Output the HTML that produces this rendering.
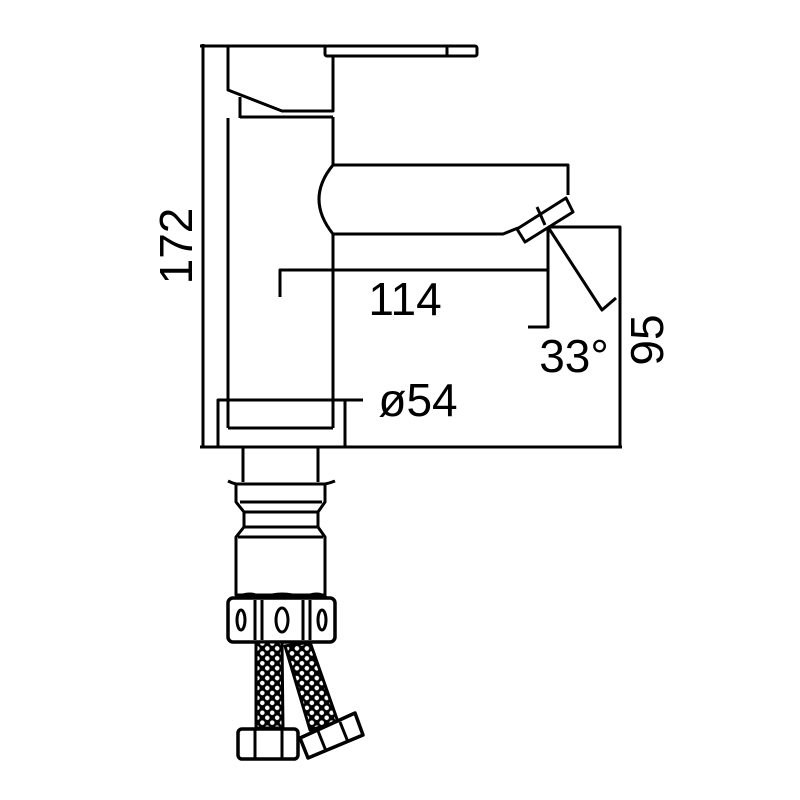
<!DOCTYPE html>
<html><head><meta charset="utf-8"><style>
html,body{margin:0;padding:0;background:#fff}
svg{display:block}
text{font-family:"Liberation Sans",sans-serif;fill:#000}
</style></head><body>
<svg width="800" height="800" viewBox="0 0 800 800" xmlns="http://www.w3.org/2000/svg">
<defs>
<pattern id="mesh" width="7" height="7" patternUnits="userSpaceOnUse" patternTransform="rotate(45)">
<rect width="7" height="7" fill="#000"/>
<circle cx="3.5" cy="3.5" r="2.3" fill="#fff"/>
</pattern>
</defs>
<g fill="none" stroke="#000" stroke-width="3" stroke-linejoin="round">
<line x1="203" y1="44" x2="203" y2="448"/>
<line x1="200" y1="46" x2="326" y2="46"/>
<line x1="200" y1="447" x2="622" y2="447"/>
<rect x="325" y="46" width="152" height="10" rx="2"/>
<line x1="447" y1="46" x2="447" y2="56"/>
<polyline points="228,46 228,90 282,111 333,111 333,56"/>
<polyline points="240,97 240,118"/>
<line x1="240" y1="117" x2="333" y2="117"/>
<line x1="228" y1="118" x2="228" y2="428"/>
<line x1="333" y1="117" x2="333" y2="165"/>
<line x1="333" y1="234" x2="333" y2="428"/>
<path d="M333,165 L568,165 L568,195"/>
<path d="M333,165 Q305,199 333,234 L503,234 L518,228"/>
<polygon points="517,229 525,242 573,212 566,198"/>
<line x1="537" y1="207" x2="545" y2="225"/>
<rect x="218" y="400" width="127" height="47"/>
<line x1="228" y1="428" x2="333" y2="428"/>
<line x1="345" y1="400" x2="363" y2="400"/>
<polyline points="548,227 620,227 620,447"/>
<polyline points="280,297 280,270 548,270"/>
<polyline points="548,227 548,327 528,327"/>
<polyline points="548,227 602,310 616,298"/>
<line x1="243" y1="447" x2="243" y2="482"/>
<line x1="318" y1="447" x2="318" y2="482"/>
<path d="M228,481 Q232,483 236,484 L325,484 Q330,483 335,481"/>
<path d="M236,484 L236,502 L244,512 L244,527 L236,537 L236,595 L325,595 L325,537 L318,527 L318,512 L325,502 L325,484"/>
<line x1="240" y1="502" x2="322" y2="502"/>
<line x1="244" y1="512" x2="318" y2="512"/>
<line x1="244" y1="527" x2="318" y2="527"/>
<line x1="238" y1="537" x2="323" y2="537"/>
<rect x="228" y="598" width="107" height="44" rx="5" stroke-width="3.5"/>
<path d="M236,598 Q250,590 262,598 Q282,590 303,598 Q318,590 327,598"/>
<line x1="255" y1="600" x2="255" y2="640"/>
<line x1="262" y1="600" x2="262" y2="640"/>
<line x1="303" y1="600" x2="303" y2="640"/>
<line x1="310" y1="600" x2="310" y2="640"/>
<ellipse cx="241" cy="620" rx="4" ry="10"/>
<ellipse cx="282" cy="620" rx="6" ry="12"/>
<ellipse cx="322" cy="620" rx="4" ry="10"/>
<polygon points="256,642 282,642 283,728 256,728" fill="url(#mesh)"/>
<polygon points="285,646 310,642 338,722 310,730" fill="url(#mesh)"/>
<rect x="238" y="729" width="60" height="30" rx="4" fill="#fff" stroke-width="3.5"/>
<line x1="255" y1="730" x2="255" y2="758"/>
<line x1="282" y1="730" x2="282" y2="758"/>
<polygon points="300,738 308,758 363,735 355,713" fill="#fff" stroke-width="3.5"/>
<line x1="318" y1="731" x2="326" y2="751"/>
<line x1="340" y1="722" x2="348" y2="742"/>
</g>
<text x="405" y="315" font-size="46" text-anchor="middle">114</text>
<text x="574" y="372" font-size="46" text-anchor="middle">33°</text>
<text x="418" y="416" font-size="46" text-anchor="middle">ø54</text>
<text transform="translate(192,246) rotate(-90)" font-size="46" text-anchor="middle">172</text>
<text transform="translate(663,340) rotate(-90)" font-size="46" text-anchor="middle">95</text>
</svg>
</body></html>
